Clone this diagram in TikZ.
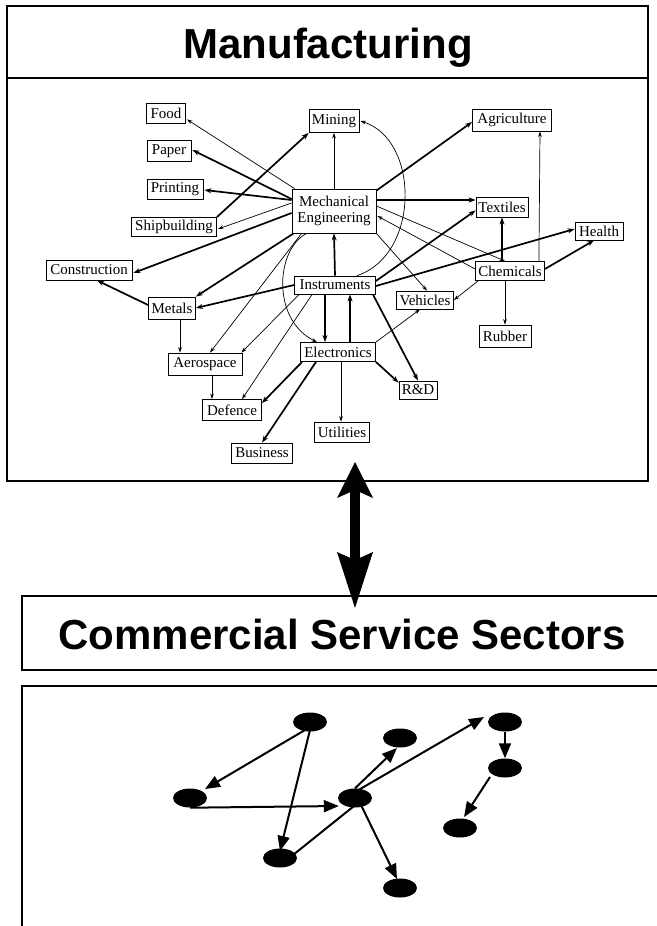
\documentclass[tikz,border=0pt]{standalone}
\usepackage{fontspec}
\setmainfont{Liberation Serif}
\newfontfamily\titlefont{Liberation Sans}
\usetikzlibrary{arrows.meta,calc,shapes.geometric}
\begin{document}
\begin{tikzpicture}[x=1pt,y=-1pt,
  lbl/.style={draw,line width=0.8pt,inner sep=0pt,font=\fontsize{15}{16}\selectfont},
  thk/.style={line width=1.7pt,-{Stealth[length=7pt,width=5pt]}},
  thn/.style={line width=0.7pt,-{Stealth[length=5.5pt,width=3.6pt]}},
  dot/.style={ellipse,fill=black,minimum width=34pt,minimum height=19pt,inner sep=0pt},
  bigarr/.style={line width=2pt,-{Triangle[length=15pt,width=12pt]}},
  ttl/.style={font=\titlefont\bfseries\fontsize{42}{48}\selectfont,inner sep=0pt}]
\useasboundingbox (0,0) rectangle (656,926);
\fill[white] (0,0) rectangle (656,926);

% ---------- frames ----------
\draw[line width=2.5pt] (7,6) rectangle (648,481);
\draw[line width=2.5pt] (7,78) -- (648,78);
\node[ttl,anchor=base] (mtitle) at (328,58) {Manufacturing};

\draw[line width=2pt] (662,596) -- (22,596) -- (22,670) -- (662,670);
\node[ttl,anchor=base] (ctitle) at (342,649) {Commercial Service Sectors};
\draw[line width=1.6pt] (662,686) -- (22,686) -- (22,932);

% ---------- big double arrow ----------
\coordinate (atop) at (355,462);
\coordinate (abot) at (355,608);
\draw[line width=10pt] (355,490) -- (355,560);
\fill (atop) -- (373,498) -- (355,490) -- (337,498) -- cycle;
\fill (abot) -- (373,552) -- (355,560) -- (337,552) -- cycle;

% ---------- manufacturing nodes ----------
\node[lbl,minimum width=39pt,minimum height=20pt] (food) at (166,113) {Food};
\node[lbl,minimum width=44pt,minimum height=21pt] (paper) at (169,151) {Paper};
\node[lbl,minimum width=56pt,minimum height=20pt] (printing) at (175,189) {Printing};
\node[lbl,minimum width=85pt,minimum height=19pt] (ship) at (174,227) {Shipbuilding};
\node[lbl,minimum width=86pt,minimum height=20pt] (constr) at (89,270) {Construction};
\node[lbl,minimum width=50pt,minimum height=23pt] (mining) at (334,121) {Mining};
\node[lbl,minimum width=79pt,minimum height=22pt] (agri) at (512,120) {Agriculture};
\node[lbl,minimum width=84pt,minimum height=44pt,align=center] (me) at (334,211) {Mechanical\\Engineering};
\node[lbl,minimum width=52pt,minimum height=20pt] (textiles) at (502,207) {Textiles};
\node[lbl,minimum width=48pt,minimum height=18pt] (health) at (599,231) {Health};
\node[lbl,minimum width=69pt,minimum height=19pt] (chem) at (510,271) {Chemicals};
\node[lbl,minimum width=81pt,minimum height=18pt] (inst) at (335,285) {Instruments};
\node[lbl,minimum width=57pt,minimum height=18pt] (vehicles) at (425,300) {Vehicles};
\node[lbl,minimum width=52pt,minimum height=22pt] (rubber) at (505,336) {Rubber};
\node[lbl,minimum width=75pt,minimum height=19pt] (elec) at (338,352) {Electronics};
\node[lbl,minimum width=38pt,minimum height=18pt] (rd) at (418,390) {R\&D};
\node[lbl,minimum width=55pt,minimum height=20pt] (util) at (342,432) {Utilities};
\node[lbl,minimum width=47pt,minimum height=22pt] (metals) at (172,308) {Metals};
\node[lbl,minimum width=74pt,minimum height=22pt] (aero) at (205,364) {Aerospace};
\node[lbl,minimum width=59pt,minimum height=21pt] (defence) at (232,410) {Defence};
\node[lbl,minimum width=61pt,minimum height=20pt] (business) at (262,453) {Business};

% ---------- manufacturing edges ----------
\draw[thn] ($(me.north west)+(3,0)$) -- ($(food.south east)+(1,-4)$);
\draw[thk] ($(me.west)+(0,-12)$) -- ($(paper.east)+(1,-1)$);
\draw[thk] ($(me.west)+(0,-11)$) -- ($(printing.east)+(1,1)$);
\draw[thn] ($(me.west)+(0,-8)$) -- ($(ship.east)+(1,2)$);
\draw[thk] ($(me.west)+(0,2)$) -- ($(constr.east)+(1,3)$);
\draw[thk] (ship.north east) -- ($(mining.south west)+(0,0)$);
\draw[thn] (me.north) -- (mining.south);
\draw[thk] ($(me.north east)+(0,2)$) -- ($(agri.west)+(0,2)$);
\draw[thk] ($(me.east)+(0,-11)$) -- ($(textiles.west)+(0,-7)$);
\draw[thn] ($(me.east)+(0,-5)$) -- ($(chem.north)+(-5,0)$);
\draw[thn] ($(chem.west)+(0,-2)$) -- ($(me.east)+(1,5)$);
\draw[thn] (me.south east) -- ($(vehicles.north)+(2,0)$);
\draw[thk] (inst.north) -- (me.south);
\draw[thk] ($(me.south west)+(2,0)$) -- (metals.north east);
\draw[thn] ($(me.south west)+(10,0)$) -- ($(aero.north)+(5,0)$);
\draw[thn] ($(me.south west)+(15,0)$) .. controls (275,250) and (272,320) .. ($(elec.north west)+(17,0)$);
\draw[thn] ($(inst.north)+(22,0)$) .. controls (420,255) and (420,140) .. ($(mining.east)+(1,0)$);
\draw[thk] (inst.west) -- (metals.east);
\draw[thn] ($(inst.south west)+(5,0)$) -- ($(aero.north east)+(-1,0)$);
\draw[thn] ($(inst.south west)+(18,0)$) -- ($(defence.north)+(10,0)$);
\draw[thk] ($(inst.south)+(-10,0)$) -- ($(elec.north)+(-13,0)$);
\draw[thk] ($(elec.north)+(12,0)$) -- ($(inst.south)+(15,0)$);
\draw[thk] ($(inst.south east)+(-3,0)$) -- (rd.north);
\draw[thk] ($(inst.east)+(0,-4)$) -- ($(textiles.south west)+(0,-7)$);
\draw[thk] ($(inst.east)+(0,1)$) -- ($(health.west)+(0,-2)$);
\draw[thk] ($(chem.north)+(-8,0)$) -- (textiles.south);
\draw[thn] ($(chem.north east)+(-6,0)$) -- ($(agri.south)+(28,0)$);
\draw[thk] ($(chem.east)+(0,-2)$) -- ($(health.south)+(-5,0)$);
\draw[thn] ($(chem.south west)+(3,0)$) -- (vehicles.east);
\draw[thn] ($(chem.south)+(-5,0)$) -- (rubber.north);
\draw[thn] (elec.north east) -- ($(vehicles.south)+(-5,0)$);
\draw[thk] (elec.south east) -- ($(rd.north west)+(0,2)$);
\draw[thn] ($(elec.south)+(3,0)$) -- ($(util.north)+(-1,0)$);
\draw[thk] ($(elec.south west)+(2,0)$) -- ($(defence.north east)+(0,4)$);
\draw[thk] ($(elec.south)+(-22,0)$) -- (business.north);
\draw[thk] ($(metals.west)+(0,-3)$) -- ($(constr.south)+(8,0)$);
\draw[thn] ($(metals.south)+(8,0)$) -- ($(aero.north)+(-25,0)$);
\draw[thn] ($(aero.south)+(7,0)$) -- ($(defence.north)+(-20,0)$);

% ---------- service sector graph ----------
\node[dot] (n1) at (310,722) {};
\node[dot] (n2) at (400,738) {};
\node[dot] (n3) at (505,722) {};
\node[dot] (n4) at (505,768) {};
\node[dot] (n5) at (190,798) {};
\node[dot] (n6) at (355,798) {};
\node[dot] (n7) at (460,828) {};
\node[dot] (n8) at (280,858) {};
\node[dot] (n9) at (400,888) {};

\draw[bigarr] ($(n1)+(-5,8)$) -- ($(n5)+(15,-9)$);
\draw[bigarr] ($(n1)+(0,8)$) -- ($(n8)+(0,-7)$);
\draw[bigarr] (n5.south) -- ($(n6.west)+(1,8)$);
\draw[bigarr] (n6.north) -- ($(n2)+(-3,10)$);
\draw[bigarr] ($(n6)+(0,-6)$) -- ($(n3)+(-21,-5)$);
\draw[line width=2pt] ($(n6)+(4,4)$) -- ($(n8)+(13,-3)$);
\draw[bigarr] ($(n6)+(6,7)$) -- ($(n9)+(-3,-9)$);
\draw[bigarr] (n3.south) -- (n4.north);
\draw[bigarr] ($(n4)+(-15,9)$) -- ($(n7)+(4,-11)$);
\end{tikzpicture}
\end{document}
